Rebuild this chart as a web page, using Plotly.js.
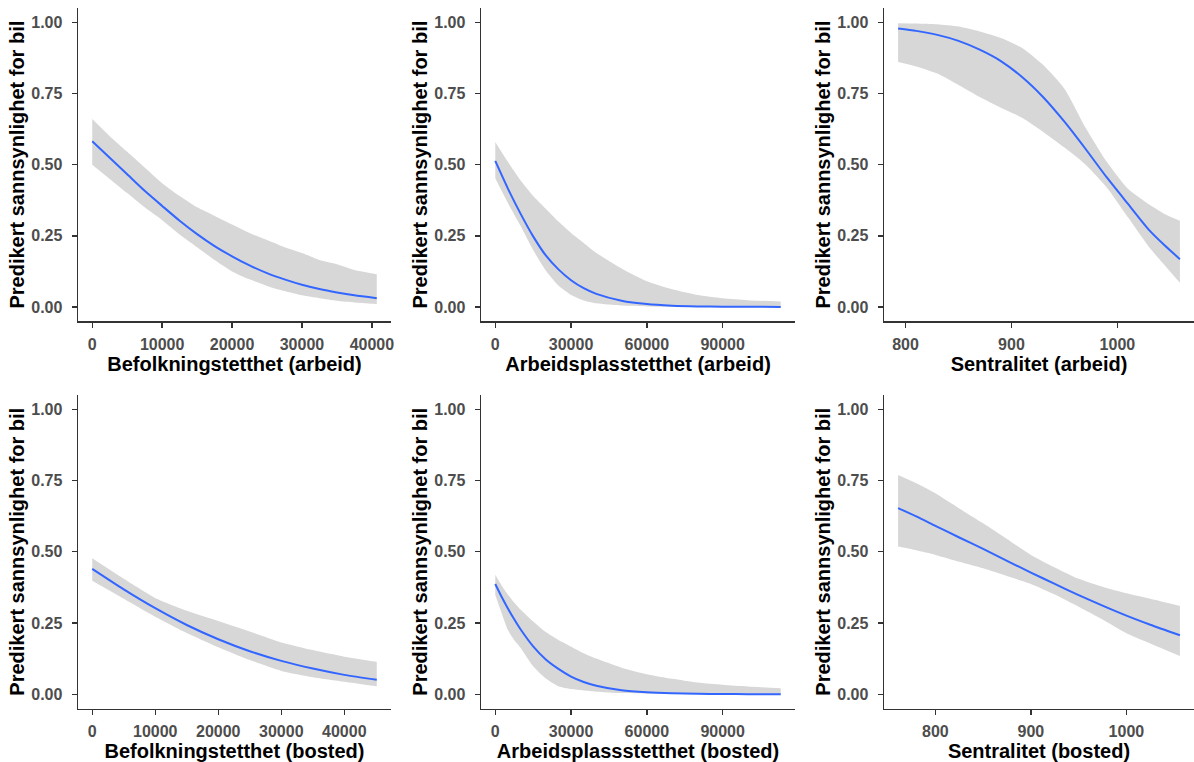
<!DOCTYPE html>
<html>
<head>
<meta charset="utf-8">
<script src="https://cdn.plot.ly/plotly-3.0.1.min.js"></script>
<style>html,body{margin:0;padding:0;background:#fff}#chart{width:1194px;height:762px}</style>
</head>
<body>
<div id="chart"></div>
<script>
// ---------- data ----------
const yTitle = 'Predikert sannsynlighet for bil';

// Befolkningstetthet (arbeid)
const befArbX   = [0, 2500, 5000, 7500, 10000, 12500, 15000, 17500, 20000, 22500, 25000, 27500, 30000, 32500, 35000, 37500, 40700];
const befArbFit = [0.582, 0.524, 0.466, 0.408, 0.355, 0.303, 0.256, 0.214, 0.178, 0.146, 0.119, 0.097, 0.078, 0.063, 0.051, 0.041, 0.031];
const befArbHi  = [0.66, 0.60, 0.545, 0.49, 0.435, 0.39, 0.35, 0.32, 0.29, 0.26, 0.235, 0.21, 0.19, 0.165, 0.15, 0.13, 0.115];
const befArbLo  = [0.50, 0.45, 0.40, 0.35, 0.305, 0.255, 0.21, 0.165, 0.125, 0.097, 0.074, 0.056, 0.041, 0.031, 0.022, 0.016, 0.01];

// Arbeidsplasstetthet (arbeid)
const arbArbX   = [0, 5000, 10000, 15000, 20000, 25000, 30000, 35000, 40000, 50000, 60000, 70000, 80000, 90000, 100000, 113000];
const arbArbFit = [0.513, 0.416, 0.328, 0.248, 0.181, 0.132, 0.094, 0.066, 0.046, 0.022, 0.010, 0.0045, 0.002, 0.001, 0.0006, 0.0003];
const arbArbHi  = [0.58, 0.51, 0.445, 0.39, 0.345, 0.30, 0.26, 0.225, 0.19, 0.135, 0.09, 0.062, 0.042, 0.031, 0.024, 0.019];
const arbArbLo  = [0.452, 0.365, 0.285, 0.20, 0.128, 0.075, 0.042, 0.023, 0.013, 0.005, 0.002, 0.001, 0.0005, 0.0002, 0.0001, 0.0];

// Sentralitet (arbeid)
const senArbX   = [793, 810, 830, 850, 870, 890, 910, 930, 950, 970, 990, 1010, 1030, 1045, 1059];
const senArbFit = [0.978, 0.970, 0.956, 0.935, 0.904, 0.864, 0.808, 0.737, 0.651, 0.555, 0.455, 0.362, 0.27, 0.215, 0.168];
const senArbHi  = [0.997, 0.996, 0.993, 0.985, 0.968, 0.945, 0.91, 0.85, 0.767, 0.63, 0.51, 0.415, 0.36, 0.326, 0.303];
const senArbLo  = [0.861, 0.845, 0.82, 0.78, 0.738, 0.70, 0.665, 0.615, 0.56, 0.50, 0.42, 0.315, 0.21, 0.145, 0.085];

// Befolkningstetthet (bosted)
const befBosX   = [0, 5000, 10000, 15000, 20000, 25000, 30000, 35000, 40000, 45150];
const befBosFit = [0.44, 0.368, 0.302, 0.243, 0.193, 0.151, 0.117, 0.09, 0.068, 0.051];
const befBosHi  = [0.477, 0.405, 0.338, 0.293, 0.257, 0.22, 0.182, 0.155, 0.132, 0.114];
const befBosLo  = [0.398, 0.335, 0.272, 0.215, 0.165, 0.12, 0.082, 0.06, 0.044, 0.028];

// Arbeidsplassstetthet (bosted)
const arbBosX   = [0, 2500, 5000, 7500, 10000, 15000, 20000, 25000, 30000, 35000, 40000, 50000, 60000, 70000, 80000, 90000, 100000, 113000];
const arbBosFit = [0.387, 0.342, 0.301, 0.263, 0.228, 0.168, 0.122, 0.089, 0.062, 0.043, 0.03, 0.014, 0.0068, 0.0032, 0.0015, 0.0008, 0.0004, 0.0002];
const arbBosHi  = [0.419, 0.382, 0.35, 0.322, 0.297, 0.255, 0.218, 0.19, 0.167, 0.144, 0.125, 0.093, 0.07, 0.054, 0.041, 0.033, 0.027, 0.021];
const arbBosLo  = [0.348, 0.285, 0.225, 0.19, 0.163, 0.098, 0.055, 0.028, 0.018, 0.013, 0.009, 0.004, 0.002, 0.001, 0.0005, 0.0002, 0.0001, 0.0];

// Sentralitet (bosted)
const senBosX   = [761, 780, 800, 825, 850, 875, 900, 925, 950, 975, 1000, 1025, 1056];
const senBosFit = [0.653, 0.624, 0.591, 0.550, 0.510, 0.468, 0.427, 0.387, 0.348, 0.311, 0.276, 0.244, 0.207];
const senBosHi  = [0.769, 0.74, 0.705, 0.652, 0.60, 0.545, 0.489, 0.445, 0.405, 0.377, 0.354, 0.335, 0.31];
const senBosLo  = [0.518, 0.505, 0.489, 0.465, 0.442, 0.415, 0.387, 0.35, 0.307, 0.262, 0.214, 0.178, 0.134];

const xTitles = ['Befolkningstetthet (arbeid)', 'Arbeidsplasstetthet (arbeid)', 'Sentralitet (arbeid)',
                 'Befolkningstetthet (bosted)', 'Arbeidsplassstetthet (bosted)', 'Sentralitet (bosted)'];
const yTickVals = [0, 0.25, 0.5, 0.75, 1];
const yTickText = ['0.00', '0.25', '0.50', '0.75', '1.00'];

// ---------- build ----------
const panels = [
  {x: befArbX, fit: befArbFit, hi: befArbHi, lo: befArbLo, dtick: 10000, tick0: 0},
  {x: arbArbX, fit: arbArbFit, hi: arbArbHi, lo: arbArbLo, dtick: 30000, tick0: 0},
  {x: senArbX, fit: senArbFit, hi: senArbHi, lo: senArbLo, dtick: 100, tick0: 800},
  {x: befBosX, fit: befBosFit, hi: befBosHi, lo: befBosLo, dtick: 10000, tick0: 0},
  {x: arbBosX, fit: arbBosFit, hi: arbBosHi, lo: arbBosLo, dtick: 30000, tick0: 0},
  {x: senBosX, fit: senBosFit, hi: senBosHi, lo: senBosLo, dtick: 100, tick0: 800}
];

const xDomains = [[78/1194, 391/1194], [481/1194, 795/1194], [884/1194, 1]];
const yDomains = [[1 - 321.2/762, 1 - 8.1/762], [1 - 708.5/762, 1 - 395/762]];

const FONT = 'Liberation Sans, Arial, Helvetica, sans-serif';
const tickFont = {family: FONT, size: 16, color: '#4D4D4D', weight: 'bold'};
const titleFont = {family: FONT, size: 20, color: '#000000', weight: 'bold'};

const traces = [];
const layout = {
  width: 1194, height: 762,
  margin: {l: 0, r: 0, t: 0, b: 0},
  paper_bgcolor: '#ffffff', plot_bgcolor: '#ffffff',
  showlegend: false,
  font: {family: FONT}
};

panels.forEach((p, i) => {
  const n = i + 1;
  const xa = n === 1 ? 'x' : 'x' + n;
  const ya = n === 1 ? 'y' : 'y' + n;
  traces.push({x: p.x, y: p.lo, xaxis: xa, yaxis: ya, type: 'scatter', mode: 'lines',
    line: {width: 0, shape: 'spline', smoothing: 0.6}, hoverinfo: 'skip'});
  traces.push({x: p.x, y: p.hi, xaxis: xa, yaxis: ya, type: 'scatter', mode: 'lines',
    line: {width: 0, shape: 'spline', smoothing: 0.6}, fill: 'tonexty', fillcolor: 'rgb(215,215,215)', hoverinfo: 'skip'});
  traces.push({x: p.x, y: p.fit, xaxis: xa, yaxis: ya, type: 'scatter', mode: 'lines',
    line: {width: 2, color: '#3366FF', shape: 'spline', smoothing: 0.6}});

  const xmin = Math.min(...p.x), xmax = Math.max(...p.x);
  const pad = (xmax - xmin) * 0.05;
  const col = i % 3, row = Math.floor(i / 3);
  const axCommon = {
    showline: true, linecolor: '#333333', linewidth: 1.4,
    ticks: 'outside', ticklen: 5, tickwidth: 1.4, tickcolor: '#333333',
    showgrid: false, zeroline: false, tickfont: tickFont
  };
  layout['xaxis' + (n === 1 ? '' : n)] = Object.assign({}, axCommon, {
    domain: xDomains[col], anchor: ya, range: [xmin - pad, xmax + pad],
    tick0: p.tick0, dtick: p.dtick, tickformat: 'd', ticklabelstandoff: 3,
    title: {text: xTitles[i], font: titleFont, standoff: 5}
  });
  layout['yaxis' + (n === 1 ? '' : n)] = Object.assign({}, axCommon, {
    domain: yDomains[row], anchor: xa, range: [-0.05, 1.05],
    tickmode: 'array', tickvals: yTickVals, ticktext: yTickText, ticklabelstandoff: 6,
    title: {text: yTitle, font: titleFont, standoff: 1}
  });
});

Plotly.newPlot('chart', traces, layout, {displayModeBar: false, staticPlot: true});
</script>
</body>
</html>
